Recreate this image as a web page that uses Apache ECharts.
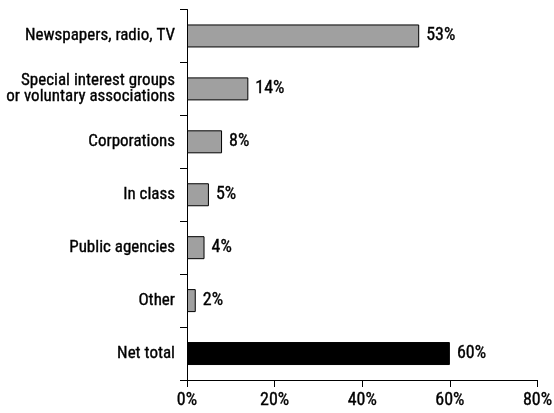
<!DOCTYPE html>
<html><head><meta charset="utf-8">
<script src="https://cdn.jsdelivr.net/npm/echarts@6/dist/echarts.min.js"></script>
<style>html,body{margin:0;padding:0;background:#fff}#c{width:554px;height:413px}</style>
</head><body><div id="c"></div>
<script>
const categories = ['Newspapers, radio, TV', 'Special interest groups\nor voluntary associations', 'Corporations', 'In class', 'Public agencies', 'Other', 'Net total'];
const values = [53, 14, 8, 5, 4, 2, 60];
const barColors = ['#a0a0a0', '#a0a0a0', '#a0a0a0', '#a0a0a0', '#a0a0a0', '#a0a0a0', '#000000'];
const xTicks = [0, 20, 40, 60, 80];

const FONT = '"Roboto Condensed", Roboto';
const thick = {textBorderColor: '#000', textBorderWidth: 0.35};
const chart = echarts.init(document.getElementById('c'), null, {renderer: 'canvas'});
chart.setOption({
  animation: false,
  textStyle: {fontFamily: FONT},
  grid: {left: 187, right: 16.5, top: 9.5, bottom: 33, containLabel: false, outerBoundsMode: 'none'},
  xAxis: {
    type: 'value', min: xTicks[0], max: xTicks[xTicks.length - 1], interval: 20,
    axisLine: {show: true, lineStyle: {color: '#000', width: 1}},
    axisTick: {show: true, length: 7, lineStyle: {color: '#000'}},
    splitLine: {show: false},
    axisLabel: Object.assign({formatter: '{value}%', color: '#000', fontSize: 18, fontFamily: FONT, margin: 11}, thick)
  },
  yAxis: {
    type: 'category', inverse: true, data: categories,
    axisLine: {show: true, lineStyle: {color: '#000', width: 1}},
    axisTick: {show: true, length: 7, inside: false, lineStyle: {color: '#000'}},
    axisLabel: Object.assign({color: '#000', fontSize: 17, fontFamily: FONT, margin: 12, lineHeight: 16, align: 'right'}, thick)
  },
  series: [{
    type: 'bar', barWidth: 23,
    data: values.map((v, i) => ({value: v, itemStyle: {color: barColors[i], borderColor: '#000', borderWidth: 1}})),
    label: Object.assign({show: true, position: 'right', distance: 7, formatter: '{c}%', color: '#000', fontSize: 18, fontFamily: FONT}, thick)
  }]
});
</script></body></html>
